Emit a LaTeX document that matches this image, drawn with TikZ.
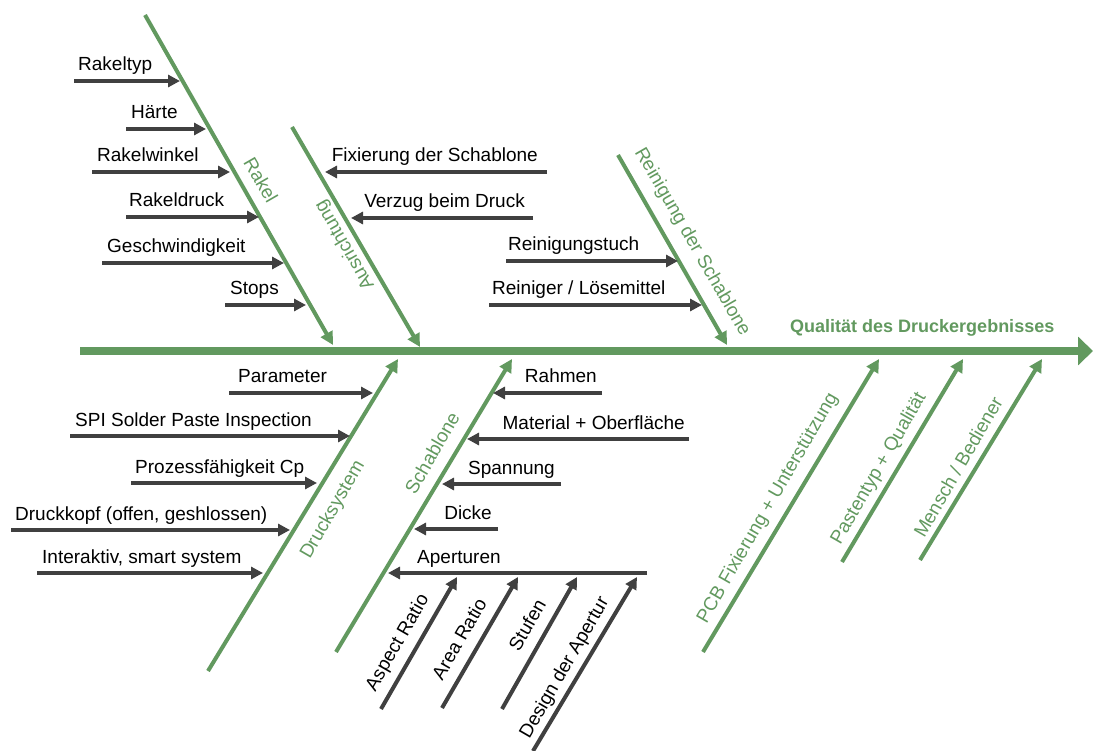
\documentclass[tikz,border=0pt]{standalone}
\usepackage{xcolor}
\usepackage{fontspec}
\setmainfont{Liberation Sans}
\usepackage{tikz}
\usetikzlibrary{arrows.meta}
\definecolor{fishgreen}{HTML}{62995F}
\definecolor{arrowgray}{HTML}{404040}
\tikzstyle{spine} = [line width=8pt, draw=fishgreen, -{Triangle[length=15pt,width=28pt]}]
\tikzstyle{bone} = [line width=4pt, draw=fishgreen, -{Triangle[length=13pt,width=13pt]}]
\tikzstyle{arrow} = [line width=4pt, draw=arrowgray, -{Triangle[length=12pt,width=12pt]}]
\tikzstyle{causetext} = [inner sep=0pt, text=black, font=\fontsize{19}{23}\selectfont]
\tikzstyle{bonetext} = [inner sep=0pt, text=fishgreen, font=\fontsize{19}{23}\selectfont]
\tikzstyle{effecttext} = [inner sep=0pt, text=fishgreen, font=\bfseries\fontsize{18}{22}\selectfont]

\begin{document}
\begin{tikzpicture}[x=1pt,y=-1pt]
	\useasboundingbox (0,0) rectangle (1093,751);

	% spine
	\coordinate (spinestart) at (80,351);
	\coordinate (spineend) at (1093,351);
	\draw [spine] (spinestart) -- (spineend);
	\node (effect) [effecttext, anchor=base west] at (790,333) {Qualität des Druckergebnisses};

	% bones
	\coordinate (rakelA) at (145,15);
	\coordinate (rakelB) at (333,345);
	\coordinate (ausrichtA) at (292,127);
	\coordinate (ausrichtB) at (420,347);
	\coordinate (reinigA) at (618,155);
	\coordinate (reinigB) at (727,345);
	\coordinate (druckA) at (208,671);
	\coordinate (druckB) at (398,359);
	\coordinate (schabA) at (336,652);
	\coordinate (schabB) at (512,359);
	\coordinate (pcbA) at (703,652);
	\coordinate (pcbB) at (879,359);
	\coordinate (pasteA) at (842,562);
	\coordinate (pasteB) at (963,359);
	\coordinate (menschA) at (920,560);
	\coordinate (menschB) at (1042,359);

	\draw [bone] (rakelA) -- (rakelB);
	\draw [bone] (ausrichtA) -- (ausrichtB);
	\draw [bone] (reinigA) -- (reinigB);
	\draw [bone] (druckA) -- (druckB);
	\draw [bone] (schabA) -- (schabB);
	\draw [bone] (pcbA) -- (pcbB);
	\draw [bone] (pasteA) -- (pasteB);
	\draw [bone] (menschA) -- (menschB);

	\node (rakel) [bonetext, rotate=-60] at (261,180) {Rakel};
	\node (ausricht) [bonetext, rotate=120] at (345,245) {Ausrichtung};
	\node (reinig) [bonetext, rotate=-60] at (692,242) {Reinigung der Schablone};
	\node (druck) [bonetext, rotate=60] at (333,510) {Drucksystem};
	\node (schab) [bonetext, rotate=60] at (432,453) {Schablone};
	\node (pcb) [bonetext, rotate=60] at (768,508) {PCB Fixierung + Unterstützung};
	\node (paste) [bonetext, rotate=60] at (879,469) {Pastentyp + Qualität};
	\node (mensch) [bonetext, rotate=60] at (958,467) {Mensch / Bediener};

	% Rakel
	\node (rakeltyp) [causetext, anchor=base west] at (78,71) {Rakeltyp};
	\node (haerte) [causetext, anchor=base west] at (131,119) {Härte};
	\node (winkel) [causetext, anchor=base west] at (97,162) {Rakelwinkel};
	\node (rdruck) [causetext, anchor=base west] at (129,207) {Rakeldruck};
	\node (tempo) [causetext, anchor=base west] at (107,253) {Geschwindigkeit};
	\node (stops) [causetext, anchor=base west] at (230,295) {Stops};
	\coordinate (rakeltypA) at (74,81);   \coordinate (rakeltypB) at (180,81);
	\coordinate (haerteA) at (126,129);   \coordinate (haerteB) at (206,129);
	\coordinate (winkelA) at (92,172);    \coordinate (winkelB) at (230,172);
	\coordinate (rdruckA) at (126,217);   \coordinate (rdruckB) at (259,217);
	\coordinate (tempoA) at (102,263);    \coordinate (tempoB) at (284,263);
	\coordinate (stopsA) at (225,305);    \coordinate (stopsB) at (306,305);
	\draw [arrow] (rakeltypA) -- (rakeltypB);
	\draw [arrow] (haerteA) -- (haerteB);
	\draw [arrow] (winkelA) -- (winkelB);
	\draw [arrow] (rdruckA) -- (rdruckB);
	\draw [arrow] (tempoA) -- (tempoB);
	\draw [arrow] (stopsA) -- (stopsB);

	% Ausrichtung
	\node (fix) [causetext, anchor=base east] at (538,162) {Fixierung der Schablone};
	\node (verzug) [causetext, anchor=base east] at (525,208) {Verzug beim Druck};
	\coordinate (fixA) at (547,172);      \coordinate (fixB) at (325,172);
	\coordinate (verzugA) at (533,218);   \coordinate (verzugB) at (351,218);
	\draw [arrow] (fixA) -- (fixB);
	\draw [arrow] (verzugA) -- (verzugB);

	% Reinigung
	\node (tuch) [causetext, anchor=base west] at (508,251) {Reinigungstuch};
	\node (loese) [causetext, anchor=base west] at (492,295) {Reiniger / Lösemittel};
	\coordinate (tuchA) at (506,261);     \coordinate (tuchB) at (678,261);
	\coordinate (loeseA) at (489,305);    \coordinate (loeseB) at (702,305);
	\draw [arrow] (tuchA) -- (tuchB);
	\draw [arrow] (loeseA) -- (loeseB);

	% Drucksystem
	\node (param) [causetext, anchor=base west] at (238,383) {Parameter};
	\node (spi) [causetext, anchor=base west] at (75,426) {SPI Solder Paste Inspection};
	\node (cp) [causetext, anchor=base west] at (135,473) {Prozessfähigkeit Cp};
	\node (kopf) [causetext, anchor=base west] at (15,520) {Druckkopf (offen, geshlossen)};
	\node (smart) [causetext, anchor=base west] at (42,563) {Interaktiv, smart system};
	\coordinate (paramA) at (229,393);    \coordinate (paramB) at (373,393);
	\coordinate (spiA) at (70,436);       \coordinate (spiB) at (350,436);
	\coordinate (cpA) at (131,483);       \coordinate (cpB) at (317,483);
	\coordinate (kopfA) at (11,530);      \coordinate (kopfB) at (290,530);
	\coordinate (smartA) at (37,573);     \coordinate (smartB) at (263,573);
	\draw [arrow] (paramA) -- (paramB);
	\draw [arrow] (spiA) -- (spiB);
	\draw [arrow] (cpA) -- (cpB);
	\draw [arrow] (kopfA) -- (kopfB);
	\draw [arrow] (smartA) -- (smartB);

	% Schablone
	\node (rahmen) [causetext, anchor=base east] at (597,383) {Rahmen};
	\node (material) [causetext, anchor=base east] at (685,429) {Material + Oberfläche};
	\node (spannung) [causetext, anchor=base east] at (555,474) {Spannung};
	\node (dicke) [causetext, anchor=base east] at (492,519) {Dicke};
	\node (apert) [causetext, anchor=base west] at (417,563) {Aperturen};
	\coordinate (rahmenA) at (602,393);   \coordinate (rahmenB) at (493,393);
	\coordinate (materialA) at (689,439); \coordinate (materialB) at (467,439);
	\coordinate (spannungA) at (561,484); \coordinate (spannungB) at (442,484);
	\coordinate (dickeA) at (498,529);    \coordinate (dickeB) at (414,529);
	\coordinate (apertA) at (647,573);    \coordinate (apertB) at (388,573);
	\draw [arrow] (rahmenA) -- (rahmenB);
	\draw [arrow] (materialA) -- (materialB);
	\draw [arrow] (spannungA) -- (spannungB);
	\draw [arrow] (dickeA) -- (dickeB);
	\draw [arrow] (apertA) -- (apertB);

	% Aperturen
	\node (aspect) [causetext, rotate=60] at (398,643) {Aspect Ratio};
	\node (area) [causetext, rotate=60] at (459,639) {Area Ratio};
	\node (stufen) [causetext, rotate=60] at (527,625) {Stufen};
	\node (design) [causetext, rotate=60] at (565,668) {Design der Apertur};
	\coordinate (aspectA) at (381,709);   \coordinate (aspectB) at (457,577);
	\coordinate (areaA) at (442,708);     \coordinate (areaB) at (518,577);
	\coordinate (stufenA) at (502,709);   \coordinate (stufenB) at (577,577);
	\coordinate (designA) at (533,751);   \coordinate (designB) at (637,577);
	\draw [arrow] (aspectA) -- (aspectB);
	\draw [arrow] (areaA) -- (areaB);
	\draw [arrow] (stufenA) -- (stufenB);
	\draw [arrow] (designA) -- (designB);
\end{tikzpicture}
\end{document}
